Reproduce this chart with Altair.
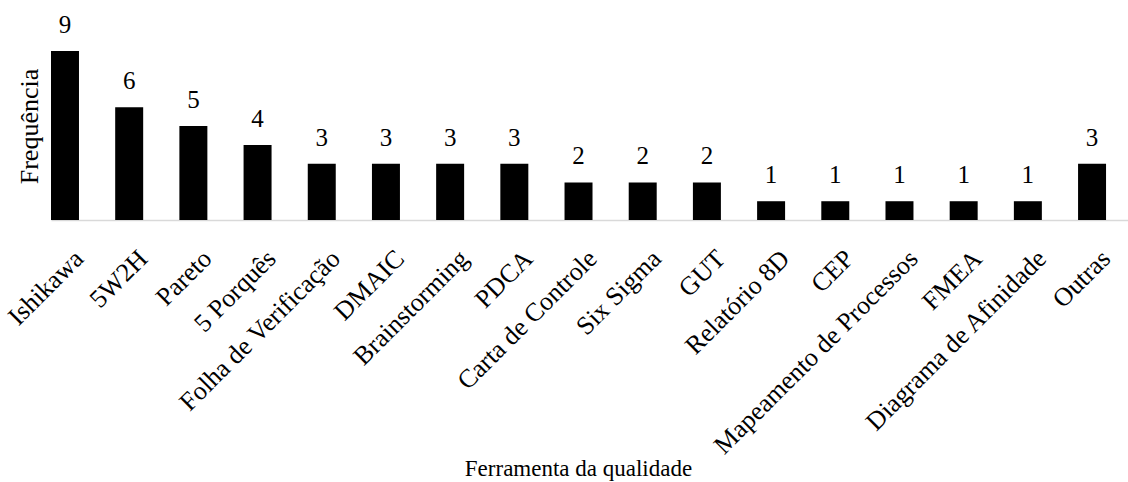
import altair as alt
import pandas as pd

ferramentas = ["Ishikawa", "5W2H", "Pareto", "5 Porquês", "Folha de Verificação", "DMAIC",
               "Brainstorming", "PDCA", "Carta de Controle", "Six Sigma", "GUT", "Relatório 8D",
               "CEP", "Mapeamento de Processos", "FMEA", "Diagrama de Afinidade", "Outras"]
frequencia = [9, 6, 5, 4, 3, 3, 3, 3, 2, 2, 2, 1, 1, 1, 1, 1, 3]

df = pd.DataFrame({"ferramenta": ferramentas, "freq": frequencia})
FONT = "Times New Roman, Liberation Serif, serif"

x = alt.X("ferramenta:N", sort=ferramentas,
          scale=alt.Scale(paddingInner=0.564, paddingOuter=0.171, align=0),
          axis=alt.Axis(title="Ferramenta da qualidade", labelAngle=-45, labelFont=FONT,
                        labelFontSize=26, labelColor="black", labelPadding=25,
                        labelAlign="right", labelBaseline="top", labelOffset=5,
                        ticks=False, domainColor="#d9d9d9", domainWidth=1.5, grid=False,
                        titleFont=FONT, titleFontSize=23, titleFontWeight="normal",
                        titleColor="black", titleY=255, titleX=527, titleAnchor="start",
                        titleAlign="center", titleBaseline="alphabetic",
                        labelOverlap=False, labelLimit=0))
y = alt.Y("freq:Q", scale=alt.Scale(domain=[0, 9], nice=False),
          axis=alt.Axis(title="Frequência", labels=False, ticks=False, domain=False, grid=False,
                        titleFont=FONT, titleFontSize=26, titleFontWeight="normal",
                        titleColor="black", titleX=-9, titleY=75, titleAngle=-90,
                        titleAlign="center", titleBaseline="bottom"))

bars = alt.Chart(df).mark_bar(color="black").encode(x=x, y=y)
text = alt.Chart(df).mark_text(font=FONT, fontSize=25, dy=-18, baseline="alphabetic",
                               color="black").encode(
    x=alt.X("ferramenta:N", sort=ferramentas), y=y, text="freq:Q")

chart = (bars + text).properties(
    width=1077, height=169,
    background="white",
    autosize=alt.AutoSizeParams(type="none"),
    padding={"left": 51, "top": 51, "right": 0, "bottom": 262},
).configure_view(stroke=None).configure_axis(grid=False)

chart.save("out.html", embed_options={"renderer": "svg", "actions": False})
